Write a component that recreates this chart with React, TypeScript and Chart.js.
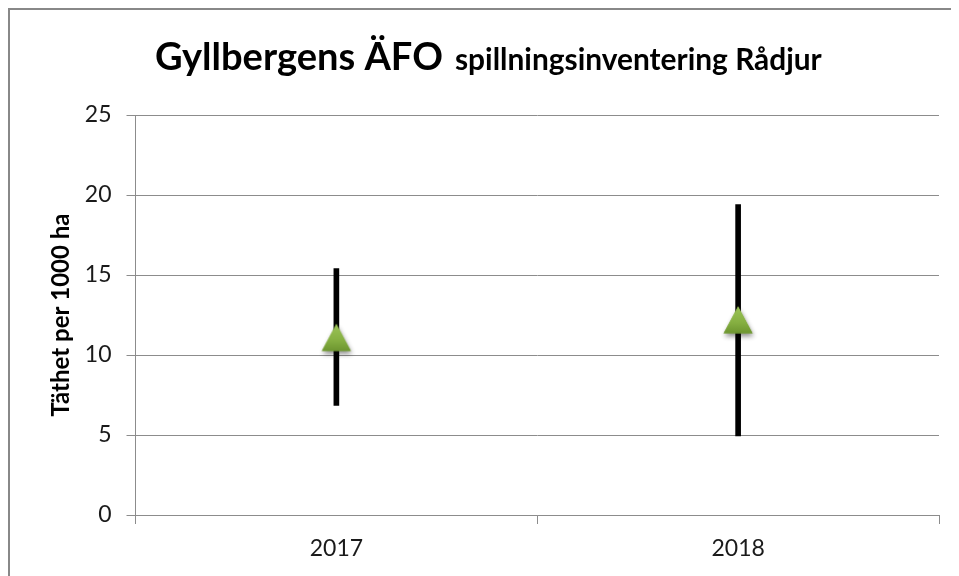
import React, { useEffect, useRef } from "react";
import { Chart, registerables } from "chart.js";

Chart.register(...registerables);

const categories = ["2017", "2018"];
const meanValues = [11.1, 12.2];
const lowValues = [6.85, 4.95];
const highValues = [15.4, 19.4];
const yTicks = [0, 5, 10, 15, 20, 25];

const TITLE_MAIN = "Gyllbergens ÄFO";
const TITLE_SUB = "spillningsinventering Rådjur";
const Y_TITLE = "Täthet per 1000 ha";

const GRID = "#8c8c8c";
const TEXT = "#1a1a1a";
const FONT = "Lato, 'Open Sans', sans-serif";

function makeTriangle(): HTMLCanvasElement {
  const c = document.createElement("canvas");
  c.width = 46;
  c.height = 46;
  const g = c.getContext("2d")!;
  const cx = 23, cy = 23, hw = 14.5, hh = 13.5;
  // shadow
  g.save();
  g.shadowColor = "rgba(0,0,0,0.45)";
  g.shadowBlur = 5;
  g.shadowOffsetX = 1;
  g.shadowOffsetY = 3;
  g.beginPath();
  g.moveTo(cx, cy - hh);
  g.lineTo(cx + hw, cy + hh);
  g.lineTo(cx - hw, cy + hh);
  g.closePath();
  g.fillStyle = "#7fa83c";
  g.fill();
  g.restore();
  const grad = g.createLinearGradient(0, cy - hh, 0, cy + hh);
  grad.addColorStop(0, "#9cc458");
  grad.addColorStop(0.6, "#86b042");
  grad.addColorStop(1, "#6d9530");
  g.beginPath();
  g.moveTo(cx, cy - hh);
  g.lineTo(cx + hw, cy + hh);
  g.lineTo(cx - hw, cy + hh);
  g.closePath();
  g.fillStyle = grad;
  g.fill();
  return c;
}

const mixedTitle = {
  id: "mixedTitle",
  afterDraw(chart: any) {
    const ctx = chart.ctx as CanvasRenderingContext2D;
    ctx.save();
    ctx.fillStyle = "#000";
    ctx.textBaseline = "alphabetic";
    ctx.textAlign = "left";
    ctx.font = `bold 40px ${FONT}`;
    const m1 = ctx.measureText(TITLE_MAIN).width;
    const size1 = (40 * 288) / m1;
    ctx.font = `bold 30px ${FONT}`;
    const m2 = ctx.measureText(TITLE_SUB).width;
    const size2 = (30 * 367) / m2;
    const gap = 12;
    const total = 288 + gap + 367;
    const startX = chart.width / 2 + 4 - total / 2;
    const baseY = 60;
    ctx.font = `bold ${size1}px ${FONT}`;
    ctx.fillText(TITLE_MAIN, startX, baseY);
    ctx.font = `bold ${size2}px ${FONT}`;
    ctx.fillText(TITLE_SUB, startX + 288 + gap, baseY);
    ctx.restore();
  },
};

export default function App() {
  const ref = useRef<HTMLCanvasElement | null>(null);
  useEffect(() => {
    if (!ref.current) return;
    const tri = makeTriangle();
    const chart = new Chart(ref.current, {
      type: "bar",
      data: {
        labels: categories,
        datasets: [
          {
            type: "line",
            data: meanValues,
            showLine: false,
            pointStyle: tri as any,
            pointRadius: 15,
            order: 0,
          } as any,
          {
            type: "bar",
            data: categories.map((_, i) => [lowValues[i], highValues[i]]),
            backgroundColor: "#000",
            borderWidth: 0,
            borderSkipped: false,
            barThickness: 5,
            order: 1,
          } as any,
        ],
      },
      options: {
        animation: false,
        responsive: false,
        devicePixelRatio: 1,
        layout: { padding: { left: 0, right: 20, top: 105, bottom: 0 } },
        plugins: { legend: { display: false }, tooltip: { enabled: false } },
        scales: {
          x: {
            type: "category",
            offset: true,
            grid: {
              display: true,
              drawOnChartArea: false,
              drawTicks: true,
              tickLength: 9,
              color: GRID,
              offset: true,
            },
            border: { display: true, color: GRID },
            ticks: {
              font: { family: FONT, size: 23 },
              color: TEXT,
              padding: 11,
              maxRotation: 0,
            },
            afterFit: (s: any) => {
              s.height = 61;
            },
          },
          y: {
            min: 0,
            max: 25,
            afterBuildTicks: (s: any) => {
              s.ticks = yTicks.map((v) => ({ value: v }));
            },
            grid: { color: GRID, tickLength: 9, drawTicks: true },
            border: { display: true, color: GRID },
            ticks: {
              font: { family: FONT, size: 23 },
              color: TEXT,
              padding: 15,
            },
            title: {
              display: true,
              text: Y_TITLE,
              font: { family: FONT, size: 24, weight: "bold" },
              color: "#000",
              padding: { top: 37, bottom: 0 },
            },
            afterFit: (s: any) => {
              s.width = 125.5;
            },
          },
        },
      } as any,
      plugins: [mixedTitle],
    });
    return () => chart.destroy();
  }, []);
  return (
    <div
      style={{
        width: 951,
        height: 568,
        boxSizing: "border-box",
        borderTop: "2px solid #888",
        borderLeft: "2px solid #888",
        overflow: "hidden",
        background: "#fff",
      }}
    >
      <canvas ref={ref} width={949} height={566} style={{ display: "block" }} />
    </div>
  );
}
